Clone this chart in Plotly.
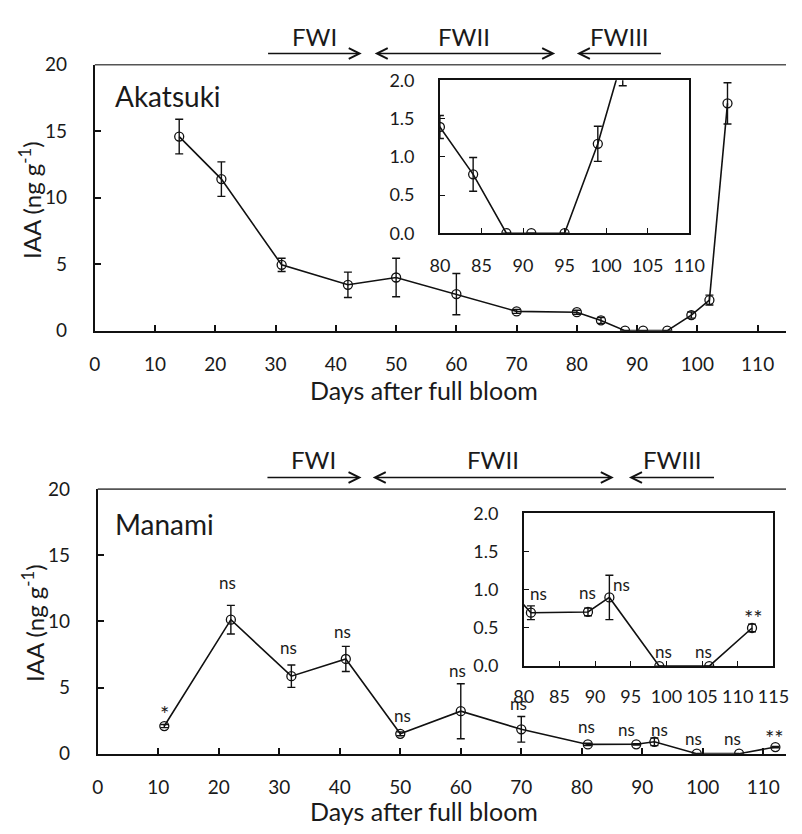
import plotly.graph_objects as go

# ---------------- data ----------------
ak_days = [14, 21, 31, 42, 50, 60, 70, 80, 84, 88, 91, 95, 99, 102, 105]
ak_iaa = [14.6, 11.4, 4.95, 3.45, 4.0, 2.75, 1.45, 1.39, 0.77, 0, 0, 0, 1.17, 2.3, 17.1]
ak_err = [1.3, 1.3, 0.5, 0.95, 1.45, 1.55, 0.15, 0.15, 0.22, 0, 0, 0, 0.23, 0.37, 1.55]

ma_days = [11, 22, 32, 41, 50, 60, 70, 81, 89, 92, 99, 106, 112]
ma_iaa = [2.09, 10.13, 5.86, 7.16, 1.5, 3.21, 1.84, 0.7, 0.71, 0.9, 0, 0, 0.5]
ma_err = [0.12, 1.08, 0.85, 0.95, 0.15, 2.08, 0.97, 0.09, 0.05, 0.29, 0, 0, 0.05]
ma_sig = ["*", "ns", "ns", "ns", "ns", "ns", "ns", "ns", "ns", "ns", "ns", "ns", "**"]

main_xticks = [0, 10, 20, 30, 40, 50, 60, 70, 80, 90, 100, 110]
main_yticks = [0, 5, 10, 15, 20]
inset_yticks = [0.0, 0.5, 1.0, 1.5, 2.0]
ak_inset_xticks = [80, 85, 90, 95, 100, 105, 110]
ma_inset_xticks = [80, 85, 90, 95, 100, 105, 110, 115]

# phases (days): (label, start, end, heads)
ak_phases = [("FWI", 28.5, 44.3, "end"), ("FWII", 46.2, 76.4, "both"), ("FWIII", 80.0, 94.2, "start")]
ma_phases = [("FWI", 27.8, 43.6, "end"), ("FWII", 45.2, 85.3, "both"), ("FWIII", 87.8, 102.1, "start")]

# label offsets in pixels relative to the point (style)
ma_main_off = [(0, 13), (-3, 37), (-3, 29), (-3, 27), (2, 18), (-3, 41), (-3, 26),
               (-1, 18), (-10, 15), (5, 12), (-3, 15), (-7, 15), (-1, 10)]
ma_inset_off = {7: (8, 19), 8: (0, 19), 9: (12, 13), 10: (4, 15), 11: (-6, 15), 12: (1, 10)}

FONT = "Lato"
INK = "#111111"
TXT = "#1a1a1a"
W, H = 802, 834


def px_x(p):
    return p / W


def px_y(p):
    return 1 - p / H


def errs(e):
    return [v if v > 0 else None for v in e]


fig = go.Figure()


def add_series(days, vals, e, xa, ya):
    fig.add_trace(go.Scatter(
        x=days, y=vals, mode="lines+markers", xaxis=xa, yaxis=ya,
        line=dict(color=INK, width=1.6),
        marker=dict(symbol="circle-open", size=9, color=INK, line=dict(width=1.3, color=INK)),
        error_y=dict(type="data", array=errs(e), visible=True, color=INK, thickness=1.4, width=4),
        hoverinfo="skip",
    ))


add_series(ak_days, ak_iaa, ak_err, "x", "y")
add_series(ma_days, ma_iaa, ma_err, "x2", "y2")
add_series(ak_days, ak_iaa, ak_err, "x3", "y3")
add_series(ma_days, ma_iaa, ma_err, "x4", "y4")

tickfont_main = dict(family=FONT, size=19, color=TXT)
tickfont_inset = dict(family=FONT, size=18, color=TXT)


def main_x(dom, rng, anchor, standoff):
    return dict(domain=dom, range=rng, tickvals=main_xticks, ticks="inside", ticklen=6, tickwidth=1.5,
                tickcolor=INK, showline=True, linewidth=2, linecolor=INK, showgrid=False, zeroline=False,
                tickfont=tickfont_main, ticklabelstandoff=standoff, anchor=anchor)


def main_y(dom, anchor):
    return dict(domain=dom, range=[0, 20], tickvals=main_yticks, ticks="inside", ticklen=6, tickwidth=1.5,
                tickcolor=INK, showline=True, linewidth=2, linecolor=INK, showgrid=False, zeroline=False,
                tickfont=tickfont_main, ticklabelstandoff=22, anchor=anchor)


def inset_x(dom, rng, tv, anchor, standoff):
    return dict(domain=dom, range=rng, tickvals=tv, ticks="inside", ticklen=5, tickwidth=1.3,
                tickcolor=INK, showline=True, linewidth=1.5, linecolor=INK, mirror=True, showgrid=False,
                zeroline=False, tickfont=tickfont_inset, ticklabelstandoff=standoff, anchor=anchor)


def inset_y(dom, anchor):
    return dict(domain=dom, range=[0, 2], tickvals=inset_yticks, tickformat=".1f", ticks="inside", ticklen=5,
                tickwidth=1.3, tickcolor=INK, showline=True, linewidth=1.5, linecolor=INK, mirror=True,
                showgrid=False, zeroline=False, tickfont=tickfont_inset, ticklabelstandoff=20, anchor=anchor)


top_dom_y = [px_y(327.7), px_y(54.3)]
bot_dom_y = [px_y(762.7), px_y(490.7)]

fig.update_layout(
    width=W, height=H, margin=dict(l=0, r=0, t=0, b=0),
    paper_bgcolor="white", plot_bgcolor="white", showlegend=False,
    font=dict(family=FONT, color=TXT),
    xaxis=main_x([px_x(87.7), 1], [0, (W - 87.7) / 6.227], "y", 16),
    yaxis=main_y(top_dom_y, "x"),
    xaxis2=main_x([px_x(90.7), 1], [0, (W - 90.7) / 6.253], "y2", 16),
    yaxis2=main_y(bot_dom_y, "x2"),
    xaxis3=inset_x([px_x(444.3), px_x(702)], [80, 110], ak_inset_xticks, "y3", 15),
    yaxis3=inset_y([px_y(227.5), px_y(70.3)], "x3"),
    xaxis4=inset_x([px_x(531), px_x(789)], [80, 115], ma_inset_xticks, "y4", 14),
    yaxis4=inset_y([px_y(672.7), px_y(515.7)], "x4"),
)

shapes = []
# top border of main panels
for x0, yp in [(87.7, 54.3), (90.7, 490.7)]:
    shapes.append(dict(type="line", xref="paper", yref="paper", x0=px_x(x0), x1=1, y0=px_y(yp), y1=px_y(yp),
                       line=dict(color="#555", width=1.6)))
fig.update_layout(shapes=shapes)

ann = []
ARW = dict(showarrow=True, arrowhead=5, arrowsize=1.5, arrowwidth=1.4, arrowcolor=INK, text="")


def phase_arrows(phases, xref, arrow_y, text_y):
    for label, a, b, heads in phases:
        base = dict(xref=xref, axref=xref, y=arrow_y, yref="paper", ay=0, ayref="pixel", **ARW)
        if heads == "end":
            ann.append(dict(x=b, ax=a, **base))
        elif heads == "start":
            ann.append(dict(x=a, ax=b, **base))
        else:
            ann.append(dict(x=b, ax=a, startarrowhead=5, arrowside="end+start", startarrowsize=1.5, **base))
        ann.append(dict(x=(a + b) / 2, xref=xref, y=text_y, yref="paper", text=label, showarrow=False,
                        font=dict(family=FONT, size=24, color=TXT), xanchor="center", yanchor="middle"))


phase_arrows(ak_phases, "x", px_y(42.7), px_y(25))
phase_arrows(ma_phases, "x2", px_y(478.7), px_y(460))

# cultivar labels
ann.append(dict(x=px_x(106), y=px_y(86), xref="paper", yref="paper", text="Akatsuki", showarrow=False,
                xanchor="left", yanchor="middle", font=dict(family=FONT, size=28, color=TXT)))
ann.append(dict(x=px_x(106), y=px_y(527), xref="paper", yref="paper", text="Manami", showarrow=False,
                xanchor="left", yanchor="middle", font=dict(family=FONT, size=28, color=TXT)))

# axis titles
for xc, yc in [(20, 193), (23, 628)]:
    ann.append(dict(x=px_x(xc), y=px_y(yc), xref="paper", yref="paper", text="IAA (ng g<sup>-1</sup>)",
                    textangle=-90, showarrow=False, xanchor="center", yanchor="middle",
                    font=dict(family=FONT, size=24, color=TXT)))
for yc in [389, 822]:
    ann.append(dict(x=px_x(428), y=px_y(yc), xref="paper", yref="paper", text="Days after full bloom",
                    showarrow=False, xanchor="center", yanchor="middle",
                    font=dict(family=FONT, size=25, color=TXT)))

# significance labels
for i, (d, v, s) in enumerate(zip(ma_days, ma_iaa, ma_sig)):
    dx, dy = ma_main_off[i]
    ann.append(dict(x=d, y=v, xref="x2", yref="y2", text=s, showarrow=False, xshift=dx, yshift=dy,
                    font=dict(family=FONT, size=22 if "*" in s else 17, color=TXT)))
for i, (dx, dy) in ma_inset_off.items():
    s = ma_sig[i]
    ann.append(dict(x=ma_days[i], y=ma_iaa[i], xref="x4", yref="y4", text=s, showarrow=False,
                    xshift=dx, yshift=dy, font=dict(family=FONT, size=22 if "*" in s else 17, color=TXT)))

fig.update_layout(annotations=ann)
fig.write_html("out.html")
